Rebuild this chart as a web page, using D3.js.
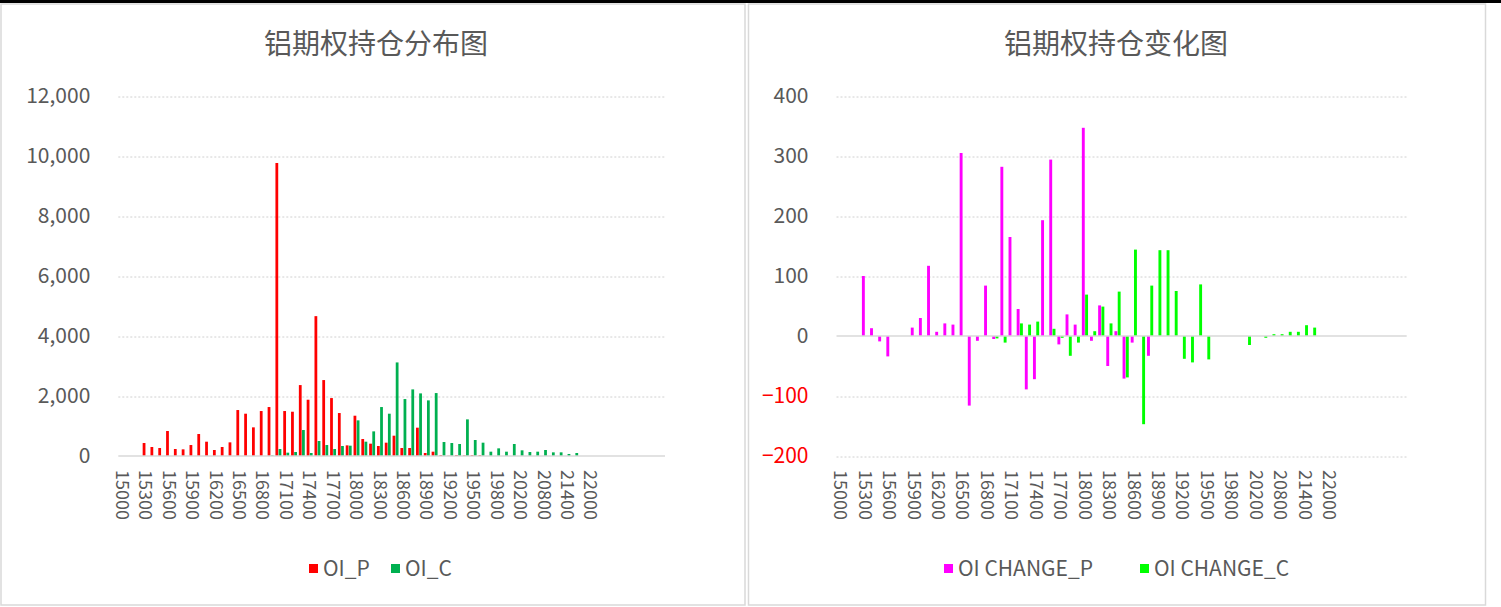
<!DOCTYPE html>
<meta charset="utf-8">
<head>
<style>
  body { margin: 0; background: #fff; }
  text { font-family: "Noto Sans CJK SC", "Noto Sans", sans-serif; fill: #595959; }
  .grid line { stroke: #d0d0d0; stroke-width: 1px; stroke-dasharray: 2,2; }
  .grid path { display: none; }
</style>
</head>
<body>
<script src="https://d3js.org/d3.v7.min.js"></script>
<script>
// strike categories (blank ones at the end are empty rows of the sheet)
var strikes = [
  "15000","15100","15200","15300","15400","15500","15600","15700","15800","15900",
  "16000","16100","16200","16300","16400","16500","16600","16700","16800","16900",
  "17000","17100","17200","17300","17400","17500","17600","17700","17800","17900",
  "18000","18100","18200","18300","18400","18500","18600","18700","18800","18900",
  "19000","19100","19200","19300","19400","19500","19600","19700","19800","19900",
  "20000","20200","20400","20600","20800","21000","21200","21400","21600","21800",
  "22000","","","","","","","","",""
];

// open interest, puts
var oiP = [
  null,null,null,433,300,266,833,233,222,366,
  733,477,200,300,455,1532,1410,955,1499,1632,
  9767,1499,1476,2364,1876,4662,2531,1931,1432,355,
  1343,566,411,333,444,677,266,266,944,100,
  144,33,10,33,20,30,30,null,null,null,
  null,null,null,null,null,null,null,null,null,null,
  null,null,null,null,null,null,null,null,null,null
];

// open interest, calls
var oiC = [
  null,null,null,null,null,null,null,null,null,null,
  null,null,null,null,null,null,null,null,null,20,
  233,111,133,866,100,500,366,233,333,344,
  1188,477,821,1632,1410,3119,1898,2220,2087,1854,
  2098,466,433,400,1221,533,444,144,255,144,
  400,189,133,144,200,122,122,67,100,null,
  null,null,null,null,null,null,null,null,null,null
];

// change in open interest, puts
var chgP = [
  null,null,null,100,13,-9,-34,null,null,14,
  30,117,7,21,19,305,-116,-8,84,-5,
  282,165,45,-89,-72,193,294,-14,36,19,
  347,-8,51,-50,8,-71,-11,null,-33,null,
  null,null,null,null,null,null,null,null,null,null,
  null,null,null,null,null,null,null,null,null,null,
  null,null,null,null,null,null,null,null,null,null
];

// change in open interest, calls
var chgC = [
  null,null,null,null,null,null,null,null,null,null,
  null,null,null,null,null,null,null,null,null,-4,
  -11,null,21,19,24,null,12,-3,-33,-11,
  69,8,49,21,74,-69,144,-147,84,143,
  143,75,-38,-44,86,-39,null,null,null,null,
  -15,null,-3,3,3,7,7,18,14,null,
  null,null,null,null,null,null,null,null,null,null
];

var leftTicks = [0, 2000, 4000, 6000, 8000, 10000, 12000];
var rightTicks = [-200, -100, 0, 100, 200, 300, 400];

var svg = d3.select("body").append("svg")
    .attr("width", 1501)
    .attr("height", 607);

// dark strip on top
svg.append("rect").attr("x", 0).attr("y", 0).attr("width", 1501).attr("height", 3).attr("fill", "#000");

function drawPanel(p) {
    var g = svg.append("g");

    // panel frame
    g.append("rect")
        .attr("x", p.box[0]).attr("y", p.box[1])
        .attr("width", p.box[2]).attr("height", p.box[3])
        .attr("fill", "none").attr("stroke", "#d9d9d9").attr("stroke-width", 1.5);

    // title
    g.append("text")
        .attr("x", p.titleX).attr("y", 54)
        .attr("text-anchor", "middle")
        .style("font-size", "28px")
        .text(p.title);

    var x = d3.scaleBand()
        .domain(d3.range(strikes.length))
        .range([p.left, p.right]);
    var x1 = d3.scaleBand()
        .domain(d3.range(p.series.length))
        .range([x.bandwidth() * 0.12, x.bandwidth() * 0.88])
        .paddingInner(0.12);
    var y = d3.scaleLinear().domain(p.domain).range([456, 96]);

    // gridlines
    g.append("g")
        .attr("class", "grid")
        .attr("transform", "translate(" + p.left + ",0.5)")
        .call(d3.axisLeft(y).tickValues(p.ticks.filter(function(t) { return t !== 0; }))
            .tickSize(-(p.right - p.left)).tickFormat(""));

    // y labels
    g.selectAll(".ylab")
        .data(p.ticks)
        .enter().append("text")
        .attr("x", p.left - 28)
        .attr("y", function(d) { return y(d); })
        .attr("dy", "0.35em")
        .attr("text-anchor", "end")
        .style("font-size", "21px")
        .style("fill", function(d) { return d < 0 ? "#ff0000" : "#595959"; })
        .text(p.fmt);

    // bars
    p.series.forEach(function(s, k) {
        var rows = s.values.map(function(v, i) { return { i: i, v: v }; })
            .filter(function(d) { return d.v !== null; });
        g.selectAll(".bar" + k)
            .data(rows)
            .enter().append("rect")
            .attr("x", function(d) { return x(d.i) + x1(k); })
            .attr("width", x1.bandwidth())
            .attr("y", function(d) { return y(Math.max(0, d.v)); })
            .attr("height", function(d) { return Math.abs(y(d.v) - y(0)); })
            .attr("fill", s.color);
    });

    // category axis line
    g.append("line")
        .attr("x1", p.left).attr("x2", p.right)
        .attr("y1", y(0)).attr("y2", y(0))
        .attr("stroke", "#d9d9d9").attr("stroke-width", 1.5);

    // category labels, every third one, rotated
    g.selectAll(".xlab")
        .data(d3.range(strikes.length).filter(function(i) { return i % 3 === 0 && strikes[i] !== ""; }))
        .enter().append("text")
        .attr("transform", function(i) {
            return "translate(" + (x(i) + x.bandwidth() / 2) + ",470) rotate(90)";
        })
        .attr("dy", "0.35em")
        .attr("text-anchor", "start")
        .style("font-size", "18px")
        .text(function(i) { return strikes[i]; });

    // legend
    p.series.forEach(function(s, k) {
        g.append("rect")
            .attr("x", p.legendX[k]).attr("y", 564)
            .attr("width", 9).attr("height", 9)
            .attr("fill", s.color);
        g.append("text")
            .attr("x", p.legendX[k] + 14).attr("y", 569)
            .attr("dy", "0.35em")
            .style("font-size", "21px")
            .text(s.name);
    });
}

drawPanel({
    box: [1, 4, 744, 601],
    title: "铝期权持仓分布图",
    titleX: 376,
    left: 118.3, right: 665,
    domain: [0, 12000],
    ticks: leftTicks,
    fmt: d3.format(","),
    series: [
        { name: "OI_P", values: oiP, color: "#ff0000" },
        { name: "OI_C", values: oiC, color: "#00b050" }
    ],
    legendX: [309, 391]
});

drawPanel({
    box: [748.5, 4, 737, 601],
    title: "铝期权持仓变化图",
    titleX: 1116,
    left: 836.5, right: 1406.7,
    domain: [-200, 400],
    ticks: rightTicks,
    fmt: d3.format("d"),
    series: [
        { name: "OI CHANGE_P", values: chgP, color: "#ff00ff" },
        { name: "OI CHANGE_C", values: chgC, color: "#00ff00" }
    ],
    legendX: [944, 1140]
});
</script>
</body>
